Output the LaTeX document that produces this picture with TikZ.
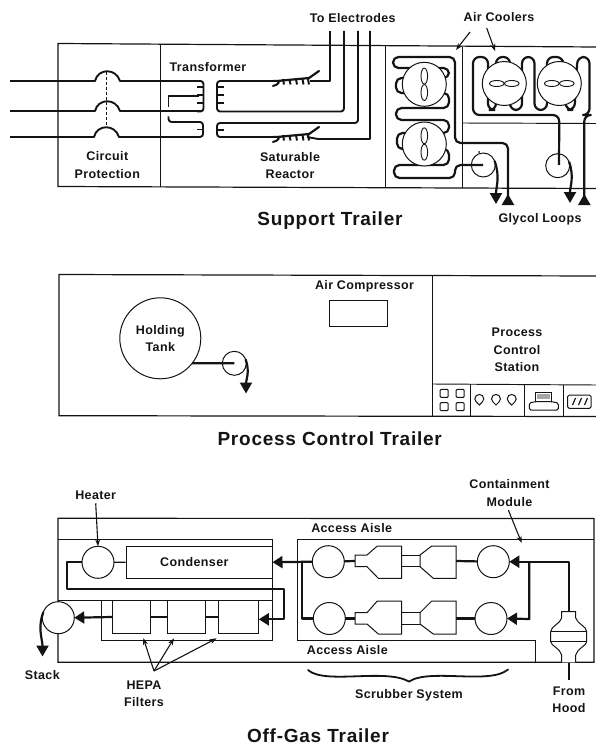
\documentclass[tikz,border=0pt]{standalone}
\usepackage{fontspec}
\setmainfont{Liberation Sans}
\usetikzlibrary{arrows.meta}
\newfontfamily\lblfont[LetterSpace=3]{Liberation Sans Bold}
\newfontfamily\ttlfont[LetterSpace=4]{Liberation Sans Bold}
\definecolor{ink}{gray}{0.08}
\tikzset{
 wall/.style={draw=ink,line width=1.2pt},
 thin wall/.style={draw=ink,line width=0.95pt},
 pipe/.style={draw=ink,line width=2.2pt,line join=round},
 wire/.style={draw=ink,line width=1.9pt,line join=round},
 ring/.style={circle,draw=ink,line width=1pt,fill=white,inner sep=0pt,outer sep=0pt},
 outl/.style={draw=ink,line width=1pt},
 lbl/.style={font=\lblfont\fontsize{12.5}{14}\selectfont,text=ink,inner sep=0pt,align=center},
 ttl/.style={font=\ttlfont\fontsize{19}{22}\selectfont,text=ink,inner sep=0pt},
 down tip/.style={-{Triangle[length=11pt,width=12pt]}},
 up tip/.style={{Triangle[reversed,length=11pt,width=12pt]}-},
 side tip/.style={-{Triangle[length=10pt,width=12pt]}},
 point/.style={draw=ink,line width=1.1pt,-{Stealth[length=7pt,width=5pt]}},
 blade/.style={draw=ink,line width=0.9pt,fill=white},
 satcoil/.pic={
  \draw[draw=ink,line width=2pt,line cap=round] (0,0) -- (4,0) .. controls (8,0) and (5,4) .. (0,5);
  \draw[draw=ink,line width=2.2pt,line cap=round] (4,0) -- (36,-3) -- (46,-10);
  \foreach \i in {10,16.5,23,29.5,35}{\draw[draw=ink,line width=2pt] (\i,-2) -- (\i+1,3.5);}
 }
}
\begin{document}
\begin{tikzpicture}[x=1pt,y=-1pt]
\useasboundingbox (0,0) rectangle (596,746);

% ---------- Support trailer ----------
\draw[wall] (596,47) -- (58,43.5) -- (58,186.5) -- (596,188.5);
\draw[thin wall] (160,44) -- (160,187);
\draw[thin wall] (385,46) -- (385,188);
\draw[thin wall] (462,47) -- (462,188);
\draw[thin wall] (462,123) -- (596,123.5);

% breaker lines
\coordinate (inA) at (10,81);
\coordinate (inB) at (10,111);
\coordinate (inC) at (10,137);
\draw[wire] (inA) -- (95,81) .. controls (98,68) and (116,68) .. (120,81) -- (201,81);
\draw[wire] (inB) -- (95,111) .. controls (98,98) and (116,98) .. (120,111) -- (201,111);
\draw[wire] (inC) -- (94,137) .. controls (97,124) and (115,124) .. (119,137) -- (199,137);
\draw[thin wall,dash pattern=on 3pt off 2pt] (106,72) -- (106,126);

% transformer primary
\draw[wire,rounded corners=3pt] (197,81) -- (203.5,81) -- (203.5,111.5) -- (197,111.5);
\foreach \y in {87,95,103}{\draw[wire] (203.5,\y) -- (197,\y);}
\draw[wire] (199,96) -- (168.5,96) -- (168.5,107);
\draw[wire,rounded corners=3pt] (168.5,116.5) -- (168.5,122) -- (203,122) -- (203,137) -- (197,137);
\draw[wire] (203,129.5) -- (197,129.5);
% transformer secondary
\draw[wire,rounded corners=3pt] (273,81) -- (217,81) -- (217,111.5) -- (344,111.5) -- (344,31);
\foreach \y in {87,95,103}{\draw[wire] (217,\y) -- (224,\y);}
\draw[wire,rounded corners=3pt] (358,31) -- (358,123) -- (217,123) -- (217,137) -- (273,137);
\draw[wire] (217,130) -- (224,130);
% saturable reactor
\pic at (273,81) {satcoil};
\pic at (273,137) {satcoil};
\draw[wire] (310,81) -- (330,81) -- (330,31);
\draw[wire] (307,137) -- (318,139) -- (370,139) -- (370,31);

% left cooler tube
\coordinate (lt) at (455,57);
\draw[pipe,rounded corners=5.5pt] (508,204) -- (508,143) -- (455,143) -- (lt) -- (393,57) -- (393,68) -- (449,68) -- (449,78) -- (396,78) -- (396,93) -- (449,93) -- (449,108) -- (396,108) -- (396,120) -- (449,120) -- (449,133) -- (397,133) -- (397,149) -- (449,149) -- (449,165) -- (394,165) -- (394,178) -- (455,178) -- (455,165) -- (483,165);
\draw[pipe,up tip] (508,205) -- (508,192);
\node[ring,minimum size=44pt] (fanA) at (424.3,84.3) {};
\node[ring,minimum size=44pt] (fanB) at (424.3,144) {};
\foreach \f in {fanA,fanB}{
 \draw[blade] ([yshift=-8.2pt]\f.center) ellipse (3.3pt and 8pt);
 \draw[blade] ([yshift=8.2pt]\f.center) ellipse (3.3pt and 8pt);
}
\node[ring,minimum size=24pt,fill=none] (pumpA) at (483.3,165) {};
\coordinate (tipA) at (496,204);
\draw[pipe,down tip] (pumpA.20) to[out=-70,in=90] (tipA);
\fill[ink] (479,152) circle (1pt);

% right cooler tube
\draw[pipe,rounded corners=6.5pt] (559,165) -- (559.3,115) -- (473,115) -- (473,57) -- (488,57) -- (488,110) -- (496,110) -- (496,57) -- (510,57) -- (510,110) -- (522,110) -- (522,57) -- (534.5,57) -- (534.5,110) -- (547,110) -- (547,57) -- (563,57) -- (566,110) -- (574.5,110) -- (577.5,57) -- (589.5,57) -- (589.5,115) -- (584.3,115) -- (584.3,200);
\draw[pipe,up tip] (584.3,205) -- (584.3,192);
\node[ring,minimum size=44pt] (fanC) at (504.3,83.5) {};
\node[ring,minimum size=44pt] (fanD) at (559.3,83.5) {};
\foreach \f in {fanC,fanD}{
 \draw[blade] ([xshift=-7.5pt]\f.center) ellipse (7.3pt and 3pt);
 \draw[blade] ([xshift=7.5pt]\f.center) ellipse (7.3pt and 3pt);
}
\node[ring,minimum size=24pt,fill=none] (pumpB) at (557.7,165.7) {};
\coordinate (tipB) at (570,203);
\draw[pipe,down tip] (pumpB.20) to[out=-70,in=90] (tipB);

% support labels
\node[lbl] (lElec) at (352.7,18) {To Electrodes};
\node[lbl] (lAir) at (499,17) {Air Coolers};
\coordinate (airA) at (470,32);
\coordinate (airB) at (486.7,28);
\coordinate (airAe) at (456,50);
\coordinate (airBe) at (495,51);
\draw[point] (airA) -- (airAe);
\draw[point] (airB) -- (airBe);
\node[lbl] (lTrans) at (208,66.7) {Transformer};
\node[lbl] (lCirc) at (107.3,165) {Circuit\\[3.5pt]Protection};
\node[lbl] (lSat) at (290,165.5) {Saturable\\[3.5pt]Reactor};
\node[lbl] (lGly) at (540,219) {Glycol Loops};
\node[ttl] (tSup) at (330,221) {Support Trailer};

% ---------- Process control trailer ----------
\draw[wall] (596,276) -- (59,274.5) -- (59,415.7) -- (596,416.5);
\draw[thin wall] (432.5,275) -- (432.5,416);
\draw[thin wall] (432.5,384) -- (596,385);
\draw[thin wall] (470.7,384) -- (470.7,416);
\draw[thin wall] (524.3,384) -- (524.3,416);
\draw[thin wall] (563.3,385) -- (563.3,416);
\node[outl,minimum width=58pt,minimum height=26pt,inner sep=0pt] (comp) at (358.3,313.7) {};
\node[ring,minimum size=81pt] (tank) at (160.3,338.3) {};
\node[lbl] at (tank.center) {Holding\\[3.5pt]Tank};
\node[ring,minimum size=24pt,fill=none] (pumpC) at (234.3,363.3) {};
\coordinate (tipC) at (246,393.5);
\draw[pipe] (tank.-38.1) -- (pumpC.center);
\draw[pipe,down tip] (pumpC.20) to[out=-70,in=90] (tipC);
\node[lbl] (lComp) at (364.5,286.7) {Air Compressor};
\node[lbl] (lStat) at (517,350) {Process\\[3.5pt]Control\\[3.5pt]Station};
\foreach \x in {444.2,460.2}\foreach \y in {393.4,406.7}{
 \draw[outl,rounded corners=1pt] (\x-4,\y-4) rectangle (\x+4,\y+4);}
\foreach \x in {479.3,496,511.7}{
 \draw[outl] (\x-4.5,399) .. controls (\x-4.5,393) and (\x+4.5,393) .. (\x+4.5,399) .. controls (\x+4.5,401) and (\x+2,403) .. (\x,405) .. controls (\x-2,403) and (\x-4.5,401) .. (\x-4.5,399) -- cycle;}
\draw[outl] (535,401.7) -- (535,392) -- (551.7,392) -- (551.7,401.7);
\draw[outl,rounded corners=1.5pt] (529.3,410) -- (529.3,403) -- (535,401.7) -- (551.7,401.7) -- (558.3,403) -- (558.3,410) -- cycle;
\fill[gray!70] (537,394) rectangle (550,399);
\draw[outl,rounded corners=1.5pt] (567.7,395) rectangle (591,408.3);
\foreach \x in {574,580,586}{\draw[draw=ink,line width=1.2pt] (\x-1.5,405) -- (\x+1.5,398);}
\node[ttl] (tPro) at (329.7,439) {Process Control Trailer};

% ---------- Off-gas trailer ----------
\draw[wall] (58,602) -- (58,518.3) -- (594,518.5) -- (594,662.3) -- (58,662.3) -- (58,634);
\draw[thin wall] (58,539.3) -- (272.7,539.3) -- (272.7,640) -- (101.7,640) -- (101.7,600);
\draw[thin wall] (58,600) -- (272.7,600);
\draw[thin wall] (594,539.3) -- (297.3,539.3) -- (297.3,640) -- (535,640) -- (535,662.3);

\node[ring,minimum size=32pt] (heater) at (98,562.3) {};
\node[outl,minimum width=146pt,minimum height=32pt,inner sep=0pt] (cond) at (199,562.2) {};
\node[lbl] at (194.3,562.3) {Condenser};
\draw[wall] (heater.east) -- (cond.west);
\node[ring,minimum size=32pt] (stack) at (58.3,617.7) {};
\node[outl,fill=white,minimum width=38pt,minimum height=33pt,inner sep=0pt] (hepaA) at (131.7,617) {};
\node[outl,fill=white,minimum width=38pt,minimum height=33pt,inner sep=0pt] (hepaB) at (186,617) {};
\node[outl,fill=white,minimum width=40pt,minimum height=33pt,inner sep=0pt] (hepaC) at (238.3,617) {};
\draw[pipe] (hepaA.east) -- (hepaB.west);
\draw[pipe] (hepaB.east) -- (hepaC.west);
\draw[pipe,side tip] (hepaA.west) -- (stack.east);
\draw[pipe,side tip] (heater.west) -- (67.3,562.3) -- (67.3,589.3) -- (284,589.3) -- (284,619.3) -- (hepaC.east |- 0,619.3);
\coordinate (tipS) at (42.5,656.5);
\draw[pipe,down tip] (stack.160) to[out=-110,in=90] (tipS);

% scrubbers
\node[ring,minimum size=32pt] (scA) at (328.3,561.7) {};
\node[ring,minimum size=32pt] (scB) at (493.3,561.7) {};
\node[ring,minimum size=32pt] (scC) at (329.3,618.5) {};
\node[ring,minimum size=32pt] (scD) at (491,618.5) {};
\draw[outl,fill=white] (355,555) -- (367,555) -- (377.3,546) -- (401.7,546) -- (401.7,578.3) -- (378.3,578.3) -- (367,566.7) -- (355,566.7) -- cycle;
\draw[outl,fill=white] (420,555) -- (431.7,546) -- (456,546) -- (456,578.3) -- (433.3,578.3) -- (420,566.7) -- cycle;
\draw[thin wall] (401.7,555) -- (420,555) (401.7,566.7) -- (420,566.7);
\draw[outl,fill=white] (355,612.7) -- (367,612.7) -- (377.3,601) -- (401.7,601) -- (401.7,634) -- (378.3,634) -- (367,624) -- (355,624) -- cycle;
\draw[outl,fill=white] (420,612.7) -- (431.7,601) -- (456,601) -- (456,634) -- (433.3,634) -- (420,624) -- cycle;
\draw[thin wall] (401.7,612.7) -- (420,612.7) (401.7,624) -- (420,624);
\coordinate (nozA) at (355,561);
\coordinate (nozB) at (456,561);
\coordinate (nozC) at (355,618.5);
\coordinate (nozD) at (456,618.5);
\draw[pipe] (scA) -- (nozA);
\draw[pipe] (nozB) -- (scB);
\draw[pipe] (scC) -- (nozC);
\draw[pipe] (nozD) -- (scD);

% suction header
\draw[pipe,side tip] (scA.west) -- (cond.east);
\draw[pipe] (301.7,561.7) -- (301.7,618.5) -- (scC.west);
% hood
\draw[outl,fill=white] (561.7,662.3) -- (561.7,655) .. controls (560,648) and (551,646) .. (550.7,641.7) -- (550.7,631.7) .. controls (551,626) and (560,624) .. (561.7,618) -- (561.7,611.7) -- (575.7,611.7) -- (575.7,618) .. controls (577.4,624) and (586.4,626) .. (586.7,631.7) -- (586.7,641.7) .. controls (586.4,646) and (577.4,648) .. (575.7,655) -- (575.7,662.3);
\draw[thin wall] (550.7,631.7) -- (586.7,631.7) (550.7,641.7) -- (586.7,641.7);
\coordinate (hoodIn) at (569,680);
\coordinate (hoodB) at (569,662.5);
\coordinate (hoodT) at (569,611.7);
\draw[pipe] (hoodIn) -- (hoodB);
\draw[pipe,side tip] (hoodT) -- (569,561.7) -- (scB.east);
\draw[pipe,side tip] (529.3,561.7) -- (529.3,619) -- (scD.east);

% brace
\draw[draw=ink,line width=1.8pt,line cap=round] (308,670) .. controls (325,685) and (385,668) .. (409,681.5) .. controls (430,668) and (490,685) .. (508,669.5);

% off-gas labels
\node[lbl] (lHeat) at (95.7,495.7) {Heater};
\draw[point] (lHeat.south) ++(0,3) -- (heater.north);
\node[lbl] (lCont) at (509.5,493) {Containment\\[3.5pt]Module};
\coordinate (contE) at (521.7,543);
\draw[point] (508.3,510) -- (contE);
\node[lbl] at (351.7,527.7) {Access Aisle};
\node[lbl] at (347.3,650.3) {Access Aisle};
\node[lbl] (lStack) at (42.3,675) {Stack};
\node[lbl] (lHepa) at (144,693.7) {HEPA\\[3.5pt]Filters};
\coordinate (hepaTop) at (154,671);
\draw[point] (hepaTop) -- (143.3,638);
\draw[point] (hepaTop) -- (174,638.3);
\draw[point] (hepaTop) -- (216.7,638.3);
\node[lbl] (lScr) at (409,695) {Scrubber System};
\node[lbl] (lHood) at (569,700) {From\\[3.5pt]Hood};
\node[ttl] (tOff) at (318,736) {Off-Gas Trailer};
\end{tikzpicture}
\end{document}
